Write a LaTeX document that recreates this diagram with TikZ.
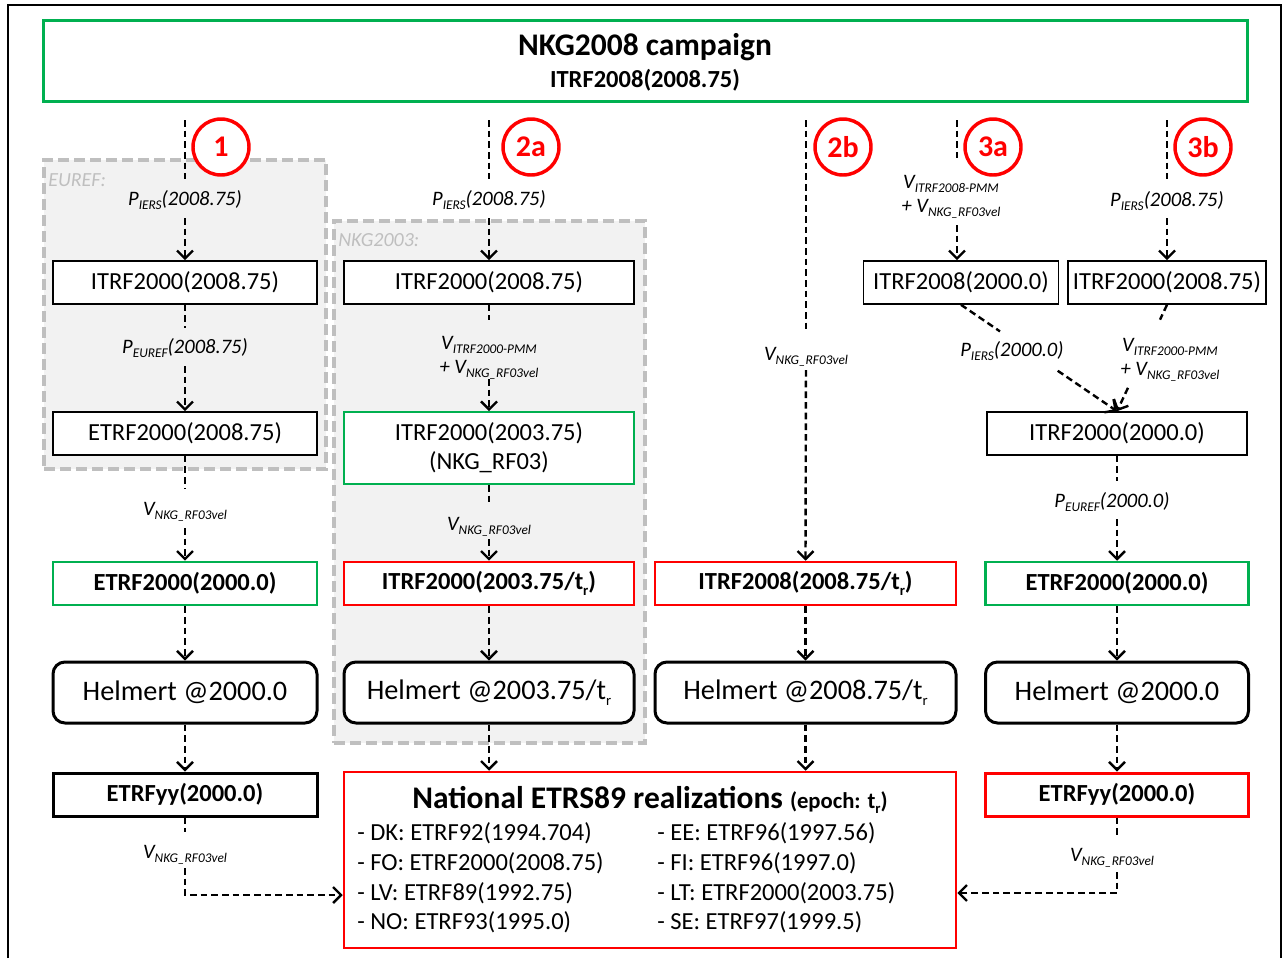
\documentclass[tikz,border=0pt]{standalone}
\usepackage{fontspec}
\setmainfont{Carlito}
\usetikzlibrary{arrows.meta,calc}
\definecolor{cgreen}{RGB}{0,176,80}
\definecolor{cred}{RGB}{255,0,0}
\definecolor{cgrayline}{RGB}{191,191,191}
\definecolor{cgrayfill}{RGB}{242,242,242}
\newcommand\fmain{\fontsize{18.4}{22}\selectfont}
\newcommand\ftitle{\fontsize{23.6}{28}\selectfont}
\newcommand\fhelm{\fontsize{21.2}{25}\selectfont}
\newcommand\flab{\fontsize{15.4}{18}\selectfont}
\newcommand\fnum{\fontsize{22.5}{26}\selectfont}
\newcommand\fgrp{\fontsize{15}{18}\selectfont}
\newcommand\fepoch{\fontsize{17}{20}\selectfont}
\newcommand\lbsub[1]{\raisebox{-0.45ex}{\fontsize{10}{10}\selectfont #1}}
\newcommand\tsub[1]{\raisebox{-0.45ex}{\fontsize{11}{11}\selectfont #1}}
\begin{document}
\begin{tikzpicture}[x=0.75pt,y=-0.75pt,
  box/.style={draw, fill=white, line width=1.2pt, inner sep=0pt, font=\fmain, align=center},
  gbox/.style={box, draw=cgreen, line width=1.9pt},
  rbox/.style={box, draw=cred, line width=1.9pt},
  hbox/.style={box, rounded corners=9pt, line width=2.25pt, font=\fhelm},
  lab/.style={font=\flab\itshape, inner sep=0pt, align=center},
  conn/.style={line width=1.8pt, dash pattern=on 5pt off 3pt},
  arr/.style={conn, -{Straight Barb[length=6pt,width=12pt]}},
  num/.style={circle, draw=cred, line width=2.6pt, fill=white, text=cred, font=\fnum\bfseries, minimum size=42pt, inner sep=0pt},
  grp/.style={draw=cgrayline, fill=cgrayfill, line width=2.5pt, dash pattern=on 8pt off 4pt, inner sep=0pt},
  grplab/.style={font=\fgrp\itshape, text=cgrayline, anchor=west, inner sep=0pt},
  item/.style={font=\fmain, anchor=west, inner sep=0pt}]
\useasboundingbox (0,0) rectangle (1282,958);
\draw[line width=1.5pt] (8,958) -- (8,5) -- (1281,5) -- (1281,958);

% group backgrounds
\node[grp, minimum width=211.5pt, minimum height=231.75pt] (euref) at (185,314.5) {};
\node[grp, minimum width=233.25pt, minimum height=391.5pt] (nkg03) at (489.5,482) {};
\node[grplab] (eurefl) at (48,180) {EUREF:};
\node[grplab] (nkg03l) at (338,240) {NKG2003:};

% title
\node[box, draw=cgreen, line width=2.25pt, minimum width=903pt, minimum height=60.75pt] (title) at (645,60.5) {};
\node[font=\ftitle\bfseries, inner sep=0pt] (tt1) at (645,47) {NKG2008 campaign};
\node[font=\fmain\bfseries, inner sep=0pt] (tt2) at (645,80) {ITRF2008(2008.75)};

% circles
\node[num] (n1) at (221,147) {1};
\node[num] (n2a) at (531,147) {2a};
\node[num] (n2b) at (843,147) {2b};
\node[num] (n3a) at (993,147) {3a};
\node[num] (n3b) at (1203,147) {3b};

% column 1
\node[box, minimum width=198pt, minimum height=32.25pt] (b11) at (185,282.5) {ITRF2000(2008.75)};
\node[box, minimum width=198pt, minimum height=32.25pt] (b12) at (185,433.5) {ETRF2000(2008.75)};
\node[gbox, font=\fmain\bfseries, minimum width=198pt, minimum height=32.25pt] (b13) at (185,583.5) {ETRF2000(2000.0)};
\node[hbox, minimum width=198pt, minimum height=45.75pt] (b14) at (185,692.5) {Helmert @2000.0};
\node[box, line width=2.25pt, font=\fmain\bfseries, minimum width=198pt, minimum height=32.25pt] (b15) at (185,794.5) {ETRFyy(2000.0)};

% column 2
\node[box, minimum width=217.5pt, minimum height=32.25pt] (b21) at (489,282.5) {ITRF2000(2008.75)};
\node[gbox, line width=1.3pt, minimum width=217.5pt, minimum height=54pt] (b22) at (489,448) {ITRF2000(2003.75)\\(NKG\_RF03)};
\node[rbox, font=\fmain\bfseries, minimum width=217.5pt, minimum height=32.25pt] (b23) at (489,583.5) {ITRF2000(2003.75/t\tsub{r})};
\node[hbox, minimum width=217.5pt, minimum height=45.75pt] (b24) at (489,692.5) {Helmert @2003.75/t\tsub{r}};

% column 3
\node[rbox, font=\fmain\bfseries, minimum width=225.75pt, minimum height=32.25pt] (b31) at (805.5,583.5) {ITRF2008(2008.75/t\tsub{r})};
\node[hbox, minimum width=225.75pt, minimum height=45.75pt] (b32) at (805.5,692.5) {Helmert @2008.75/t\tsub{r}};

% columns 3a / 3b / 4
\node[box, minimum width=146.25pt, minimum height=32.25pt] (b3a) at (961,282.5) {ITRF2008(2000.0)};
\node[box, minimum width=148.5pt, minimum height=32.25pt] (b3b) at (1167,282.5) {ITRF2000(2008.75)};
\node[box, minimum width=195pt, minimum height=32.25pt] (b41) at (1117,433.5) {ITRF2000(2000.0)};
\node[gbox, font=\fmain\bfseries, minimum width=197.25pt, minimum height=32.25pt] (b42) at (1117,583.5) {ETRF2000(2000.0)};
\node[hbox, minimum width=197.25pt, minimum height=45.75pt] (b43) at (1117,692.5) {Helmert @2000.0};
\node[rbox, line width=2.25pt, font=\fmain\bfseries, minimum width=197.25pt, minimum height=32.25pt] (b44) at (1117,794.5) {ETRFyy(2000.0)};

% national box
\node[rbox, minimum width=459pt, minimum height=132pt] (nat) at (650,860) {};
\node[inner sep=0pt] (natt) at (650,800) {\ftitle\bfseries National ETRS89 realizations \fepoch(epoch: t\tsub{r})};
\node[item] (i1) at (357,833) {- DK: ETRF92(1994.704)};
\node[item] (i2) at (357,863) {- FO: ETRF2000(2008.75)};
\node[item] (i3) at (357,893) {- LV: ETRF89(1992.75)};
\node[item] (i4) at (357,922) {- NO: ETRF93(1995.0)};
\node[item] (i5) at (657,833) {- EE: ETRF96(1997.56)};
\node[item] (i6) at (657,863) {- FI: ETRF96(1997.0)};
\node[item] (i7) at (657,893) {- LT: ETRF2000(2003.75)};
\node[item] (i8) at (657,922) {- SE: ETRF97(1999.5)};

% labels
\node[lab] (l1a) at (185,200) {P\lbsub{IERS}(2008.75)};
\node[lab] (l1b) at (185,348) {P\lbsub{EUREF}(2008.75)};
\node[lab] (l1c) at (185,512) {V\lbsub{NKG\_RF03vel}};
\node[lab] (l1d) at (185,855) {V\lbsub{NKG\_RF03vel}};
\node[lab] (l2a) at (489,200) {P\lbsub{IERS}(2008.75)};
\node[lab] (l2b) at (489,358) {V\lbsub{ITRF2000-PMM}\\+ V\lbsub{NKG\_RF03vel}};
\node[lab] (l2c) at (489,527) {V\lbsub{NKG\_RF03vel}};
\node[lab] (l3) at (806,357) {V\lbsub{NKG\_RF03vel}};
\node[lab] (l3a) at (951,197) {V\lbsub{ITRF2008-PMM}\\+ V\lbsub{NKG\_RF03vel}};
\node[lab] (l3b) at (1167,201) {P\lbsub{IERS}(2008.75)};
\node[lab] (ldiag) at (1012,351) {P\lbsub{IERS}(2000.0)};
\node[lab] (l3b2) at (1170,360) {V\lbsub{ITRF2000-PMM}\\+ V\lbsub{NKG\_RF03vel}};
\node[lab] (l4a) at (1112,502) {P\lbsub{EUREF}(2000.0)};
\node[lab] (l4d) at (1112,858) {V\lbsub{NKG\_RF03vel}};

% free ends
\coordinate (t1) at (185,120);
\coordinate (t2) at (489,120);
\coordinate (t3) at (806,120);
\coordinate (t3a) at (957,120);
\coordinate (t3b) at (1167,120);

% column 1 connectors
\draw[conn, shorten >=15.75pt] (t1) -- (l1a.center);
\draw[arr, shorten <=13.5pt] (l1a.center) -- (b11.north);
\draw[conn, shorten >=15pt] (b11.south) -- (l1b.center);
\draw[arr, shorten <=13.5pt] (l1b.center) -- (b12.north);
\draw[conn, shorten >=18pt] (b12.south) -- (l1c.center);
\draw[arr, shorten <=12pt] (l1c.center) -- (b13.north);
\draw[arr] (b13.south) -- (b14.north);
\draw[arr] (b14.south) -- (b15.north);
\draw[conn, shorten >=17.25pt] (b15.south) -- (l1d.center);
\draw[arr, shorten <=9.75pt] (l1d.center) |- ($(nat.west)+(0,35)$);

% column 2 connectors
\draw[conn, shorten >=15.75pt] (t2) -- (l2a.center);
\draw[arr, shorten <=13.5pt] (l2a.center) -- (b21.north);
\draw[conn, shorten >=28.5pt] (b21.south) -- (l2b.center);
\draw[arr, shorten <=15.75pt] (l2b.center) -- (b22.north);
\draw[conn, shorten >=18.75pt] (b22.south) -- (l2c.center);
\draw[arr, shorten <=9pt] (l2c.center) -- (b23.north);
\draw[arr] (b23.south) -- (b24.north);
\draw[arr] (b24.south) -- (b24.south |- nat.north);

% column 3 connectors
\draw[conn, shorten >=20.25pt] (t3) -- (l3.center);
\draw[arr, shorten <=9.75pt] (l3.center) -- (b31.north);
\draw[arr] (b31.south) -- (b32.north);
\draw[arr] (b32.south) -- (b32.south |- nat.north);

% 3a connectors
\draw[conn, shorten >=29.25pt] (t3a) -- (t3a |- l3a.center);
\draw[arr, shorten <=21pt] (t3a |- l3a.center) -- (t3a |- b3a.north);
\draw[conn] (b3a.south) -- ($(b3a.south)!0.25!(b41.north)$);
\draw[arr] ($(b3a.south)!0.62!(b41.north)$) -- (b41.north);

% 3b connectors
\draw[conn, shorten >=16.5pt] (t3b) -- (l3b.center);
\draw[arr, shorten <=12.75pt] (l3b.center) -- (b3b.north);
\draw[conn] (b3b.south) -- ($(b3b.south)!0.14!(b41.north)$);
\draw[arr] ($(b3b.south)!0.78!(b41.north)$) -- (b41.north);

% column 4 connectors
\draw[conn, shorten >=15.75pt] (b41.south) -- (b41.south |- l4a.center);
\draw[arr, shorten <=12.75pt] (b41.south |- l4a.center) -- (b42.north);
\draw[arr] (b42.south) -- (b43.north);
\draw[arr] (b43.south) -- (b44.north);
\draw[conn, shorten >=15.75pt] (b44.south) -- (b44.south |- l4d.center);
\draw[arr, shorten <=10.5pt] (b44.south |- l4d.center) |- ($(nat.east)+(0,33)$);
\end{tikzpicture}
\end{document}
